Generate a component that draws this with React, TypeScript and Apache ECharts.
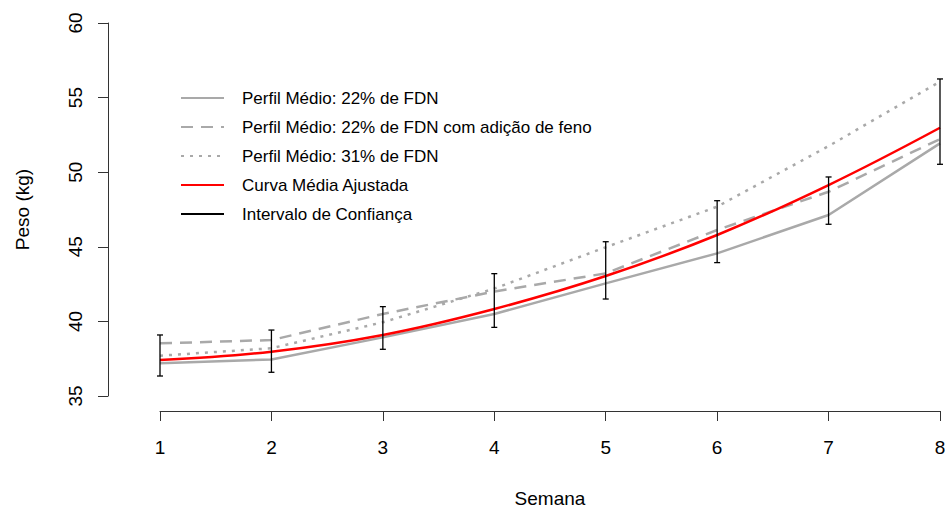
import React, { useEffect, useRef } from "react";
import * as echarts from "echarts";

const weeks = [1, 2, 3, 4, 5, 6, 7, 8];
const fdn22 = [37.19, 37.45, 38.93, 40.5, 42.55, 44.56, 47.13, 51.93];
const fdn22Feno = [38.53, 38.75, 40.5, 42.0, 43.22, 46.13, 48.69, 52.22];
const fdn31 = [37.7, 38.2, 39.94, 42.2, 44.97, 47.69, 51.75, 56.07];
const fitted = [37.41, 37.97, 39.09, 40.83, 43.04, 45.79, 49.14, 52.98];
const ciLower = [36.34, 36.59, 38.13, 39.6, 41.5, 43.94, 46.51, 50.53];
const ciUpper = [39.09, 39.42, 40.99, 43.2, 45.34, 48.09, 49.68, 56.25];

const seriesNames = [
  "Perfil Médio: 22% de FDN",
  "Perfil Médio: 22% de FDN com adição de feno",
  "Perfil Médio: 31% de FDN",
  "Curva Média Ajustada",
  "Intervalo de Confiança",
];

const FONT = "'Liberation Sans', Arial, sans-serif";
const GRAY = "#a9a9a9";

export default function App() {
  const ref = useRef<HTMLDivElement>(null);
  useEffect(() => {
    document.body.style.margin = "0";
    if (!ref.current) return;
    const chart = echarts.init(ref.current, null, { renderer: "svg" });
    const pts = (vals: number[]) => weeks.map((w, i) => [w, vals[i]]);
    chart.setOption({
      animation: false,
      textStyle: { fontFamily: FONT },
      grid: { left: 160, right: 5, top: 23, bottom: 112, containLabel: false, outerBoundsMode: "none" },
      legend: {
        data: seriesNames,
        orient: "vertical",
        left: 180,
        top: 88,
        padding: 0,
        itemWidth: 43,
        itemHeight: 20,
        itemGap: 9,
        selectedMode: false,
        itemStyle: { opacity: 0 },
        textStyle: { fontSize: 17, color: "#000", fontFamily: FONT, padding: [0, 0, 0, 13], lineHeight: 20 },
      },
      xAxis: {
        type: "value",
        min: 1,
        max: 8,
        interval: 1,
        offset: 15,
        name: "Semana",
        nameLocation: "middle",
        nameGap: 78,
        nameTextStyle: { fontSize: 19, color: "#000", fontFamily: FONT },
        axisLine: { show: true, lineStyle: { color: "#333", width: 1 } },
        axisTick: { show: true, length: 10, lineStyle: { color: "#333", width: 1 } },
        axisLabel: { fontSize: 19, color: "#000", margin: 27, fontFamily: FONT },
        splitLine: { show: false },
      },
      yAxis: {
        type: "value",
        min: 35,
        max: 60,
        interval: 5,
        offset: 52,
        name: "Peso (kg)",
        nameLocation: "middle",
        nameGap: 76,
        nameRotate: 90,
        nameTextStyle: { fontSize: 19, color: "#000", fontFamily: FONT },
        axisLine: { show: true, lineStyle: { color: "#333", width: 1 } },
        axisTick: { show: true, length: 10, lineStyle: { color: "#333", width: 1 } },
        axisLabel: { fontSize: 19, color: "#000", margin: 23, rotate: 90, fontFamily: FONT },
        splitLine: { show: false },
      },
      series: [
        {
          name: seriesNames[0],
          type: "line",
          data: pts(fdn22),
          symbol: "none",
          clip: false,
          lineStyle: { color: GRAY, width: 2.5, type: "solid" },
          itemStyle: { color: GRAY },
          z: 2,
        },
        {
          name: seriesNames[1],
          type: "line",
          data: pts(fdn22Feno),
          symbol: "none",
          clip: false,
          lineStyle: { color: GRAY, width: 2.5, type: [12, 8] },
          itemStyle: { color: GRAY },
          z: 2,
        },
        {
          name: seriesNames[2],
          type: "line",
          data: pts(fdn31),
          symbol: "none",
          clip: false,
          lineStyle: { color: GRAY, width: 2.5, type: [3, 6] },
          itemStyle: { color: GRAY },
          z: 2,
        },
        {
          name: seriesNames[3],
          type: "line",
          data: pts(fitted),
          symbol: "none",
          smooth: 0.4,
          clip: false,
          lineStyle: { color: "#ff0000", width: 2.5 },
          itemStyle: { color: "#ff0000" },
          z: 3,
        },
        {
          name: seriesNames[4],
          type: "line",
          data: [],
          symbol: "none",
          lineStyle: { color: "#000", width: 1.5 },
          itemStyle: { color: "#000" },
        },
        {
          name: "ci-bars",
          type: "custom",
          clip: false,
          z: 4,
          data: weeks.map((w, i) => [w, ciLower[i], ciUpper[i]]),
          encode: { x: 0, y: [1, 2] },
          renderItem: (params: any, api: any) => {
            const x = api.value(0);
            const lo = api.coord([x, api.value(1)]);
            const hi = api.coord([x, api.value(2)]);
            const hw = 3;
            const st = { stroke: "#000", lineWidth: 1.3 };
            return {
              type: "group",
              children: [
                { type: "line", shape: { x1: lo[0], y1: lo[1], x2: hi[0], y2: hi[1] }, style: st },
                { type: "line", shape: { x1: lo[0] - hw, y1: lo[1], x2: lo[0] + hw, y2: lo[1] }, style: st },
                { type: "line", shape: { x1: hi[0] - hw, y1: hi[1], x2: hi[0] + hw, y2: hi[1] }, style: st },
              ],
            };
          },
        },
      ],
    });
    return () => chart.dispose();
  }, []);
  return (
    <div
      ref={ref}
      style={{ position: "absolute", left: 0, top: 0, width: 945, height: 508, background: "#fff" }}
    />
  );
}
